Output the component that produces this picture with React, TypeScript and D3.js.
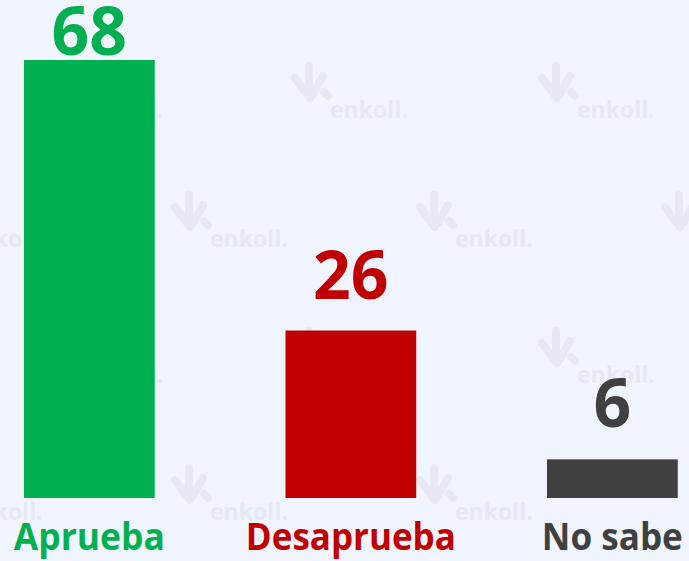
import React from "react";
import * as d3 from "d3";

const categories = ["Aprueba", "Desaprueba", "No sabe"];
const values = [68, 26, 6];
const colors = ["#00B050", "#C00000", "#404040"];
const labelWidths = [151, 210, 141];

const W = 689;
const H = 561;
const BG = "#F0F4FD";
const WM = "#E6E9F3";

const wmRows = [
  { y: 118, xs: [85, 330, 577] },
  { y: 247, xs: [-35, 210, 455, 700] },
  { y: 383, xs: [85, 330, 577] },
  { y: 520, xs: [-35, 210, 455] },
];

function Watermark({ x, y }: { x: number; y: number }) {
  return (
    <g transform={`translate(${x},${y})`} fill={WM} stroke={WM}>
      <g strokeLinecap="round" strokeWidth={8} fill="none">
        <path d="M-35,-40 L-20,-20" />
        <path d="M-21,-52 L-21,-22" />
        <path d="M-7,-42 L-17,-24" />
        <path d="M-6,-26 L-2,-22" />
      </g>
      <text
        x={0}
        y={0}
        stroke="none"
        fontFamily="'Open Sans', sans-serif"
        fontWeight={700}
        fontSize={23}
      >
        enkoll.
      </text>
    </g>
  );
}

export default function App() {
  const x = d3
    .scaleBand<string>()
    .domain(categories)
    .range([-41.4, 743.1])
    .paddingInner(0.5)
    .paddingOuter(0.25);
  const y = d3.scaleLinear().domain([0, 68]).range([498, 60]);

  return (
    <svg
      width={W}
      height={H}
      style={{ position: "absolute", left: 0, top: 0, display: "block" }}
    >
      <rect x={0} y={0} width={W} height={H} fill={BG} />
      {wmRows.map((r, i) =>
        r.xs.map((xx, j) => <Watermark key={`${i}-${j}`} x={xx} y={r.y} />)
      )}
      {categories.map((c, i) => {
        const bx = x(c)!;
        const bw = x.bandwidth();
        const top = y(values[i]);
        const cx = bx + bw / 2;
        const labelY = Math.max(top - 32, 55);
        return (
          <g key={c}>
            <rect x={bx} y={top} width={bw} height={y(0) - top} fill={colors[i]} />
            <text
              x={cx}
              y={labelY}
              textAnchor="middle"
              fill={colors[i]}
              fontFamily="'Open Sans', sans-serif"
              fontWeight={700}
              fontSize={66}
            >
              {values[i]}
            </text>
            <text
              x={cx}
              y={550}
              textAnchor="middle"
              fill={colors[i]}
              fontFamily="'Open Sans', sans-serif"
              fontWeight={700}
              fontSize={38}
              textLength={labelWidths[i]}
              lengthAdjust="spacingAndGlyphs"
            >
              {c}
            </text>
          </g>
        );
      })}
    </svg>
  );
}
